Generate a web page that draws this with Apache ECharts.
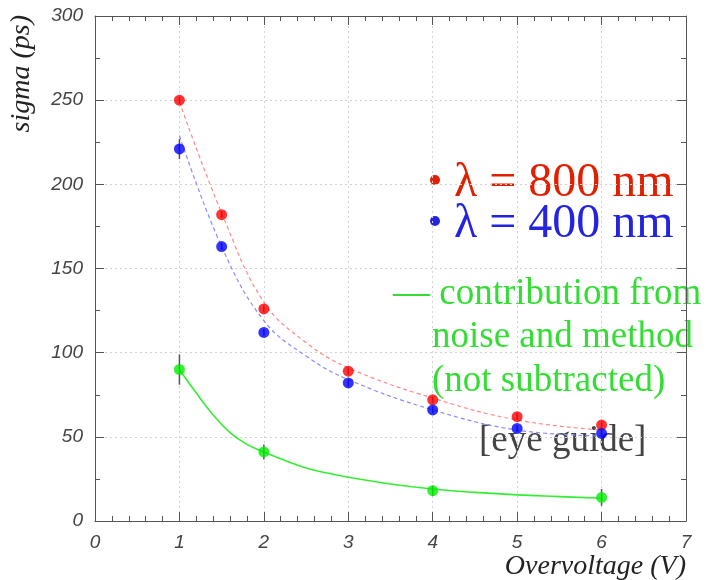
<!DOCTYPE html>
<html>
<head>
<meta charset="utf-8">
<script src="https://cdn.jsdelivr.net/npm/echarts@6/dist/echarts.min.js"></script>
<style>
  html, body { margin: 0; padding: 0; background: #fff; }
  #chart { width: 719px; height: 580px; }
</style>
</head>
<body>
<div id="chart"></div>
<script>
// Measured time resolution versus overvoltage
const voltage = [1, 1.5, 2, 3, 4, 5, 6];
const sigma800 = [250, 182, 126, 89, 72, 62, 57];
const err800 = [2, 2, 2, 2, 2, 2, 2];
const sigma400 = [221, 163, 112, 82, 66, 55, 52];
const err400 = [6, 2, 2, 2, 2, 2, 2];

// Noise and method contribution
const noiseVoltage = [1, 2, 4, 6];
const noiseSigma = [90, 41, 18, 14];
const noiseErr = [9, 4.5, 3, 5];

// Eye-guide curves
const guideX = [1, 1.5, 2, 2.5, 3, 4, 5, 6];
const guide800 = [249, 183, 130, 106, 91, 73, 60, 54];
const guide400 = [229, 163, 119, 98, 84, 66, 54, 50.5];
const noiseGuideX = [1, 1.2, 1.4, 1.6, 1.8, 2, 2.25, 2.5, 2.75, 3, 3.5, 4, 4.5, 5, 5.5, 6];
const noiseGuide = [90, 76, 63, 52.5, 45.5, 41, 36, 31.5, 28.5, 26, 22, 19, 17, 15.5, 14.5, 13.5];

// Axis ticks
const xTicks = [0, 1, 2, 3, 4, 5, 6, 7];
const yTicks = [0, 50, 100, 150, 200, 250, 300];

const zip = (xs, ys) => xs.map((x, i) => [x, ys[i]]);
const withErr = (xs, ys, es) => xs.map((x, i) => [x, ys[i] - es[i], ys[i] + es[i]]);

const chart = echarts.init(document.getElementById('chart'), null, { renderer: 'canvas' });

const tickFont = { fontFamily: 'Liberation Sans', fontStyle: 'italic', fontSize: 19, color: '#444' };
const frameLine = { show: true, onZero: false, lineStyle: { color: '#555', width: 1 } };
const grid = { show: true, type: [2, 3], color: '#d2d2d2', width: 1 };

function xAxisDef(pos, labels) {
  return {
    type: 'value', position: pos, min: xTicks[0], max: xTicks[xTicks.length - 1], interval: 1,
    axisLine: frameLine,
    axisTick: { show: true, inside: true, length: 9, lineStyle: { color: '#555' } },
    minorTick: { show: true, splitNumber: 5, length: 5, lineStyle: { color: '#555' } },
    axisLabel: labels ? Object.assign({ margin: 12 }, tickFont) : { show: false },
    splitLine: labels ? { show: true, lineStyle: grid } : { show: false },
    minorSplitLine: { show: false }
  };
}
function yAxisDef(pos, labels) {
  return {
    type: 'value', position: pos, min: yTicks[0], max: yTicks[yTicks.length - 1], interval: 50,
    axisLine: frameLine,
    axisTick: { show: true, inside: true, length: 9, lineStyle: { color: '#555' } },
    minorTick: { show: true, splitNumber: 2, length: 5, lineStyle: { color: '#555' } },
    axisLabel: labels ? Object.assign({ margin: 12 }, tickFont) : { show: false },
    splitLine: labels ? { show: true, lineStyle: grid } : { show: false },
    minorSplitLine: { show: false }
  };
}

function errorBars(data, color) {
  return {
    type: 'custom', xAxisIndex: 0, yAxisIndex: 0, z: 3,
    data: data,
    encode: { x: 0, y: [1, 2] },
    renderItem: function (params, api) {
      const lo = api.coord([api.value(0), api.value(1)]);
      const hi = api.coord([api.value(0), api.value(2)]);
      return {
        type: 'line',
        shape: { x1: lo[0], y1: lo[1], x2: hi[0], y2: hi[1] },
        style: { stroke: color, lineWidth: 1.5 }
      };
    }
  };
}

function points(xs, ys, color) {
  return {
    type: 'scatter', data: zip(xs, ys), symbol: 'circle', symbolSize: 11, z: 5,
    itemStyle: { color: color }
  };
}

function guide(xs, ys, color, dashed, width) {
  return {
    type: 'line', data: zip(xs, ys), smooth: 0.4, showSymbol: false, z: 2,
    lineStyle: { color: color, width: width, type: dashed ? [4, 3] : 'solid' }
  };
}

chart.setOption({
  animation: false,
  backgroundColor: '#fff',
  grid: { left: 95, top: 16, width: 591, height: 505, show: false },
  xAxis: [xAxisDef('bottom', true), xAxisDef('top', false)],
  yAxis: [yAxisDef('left', true), yAxisDef('right', false)],
  series: [
    guide(guideX, guide800, '#ff8a8a', true, 1.2),
    guide(guideX, guide400, '#8a8aff', true, 1.2),
    guide(noiseGuideX, noiseGuide, '#33ee33', false, 1.6),
    errorBars(withErr(voltage, sigma800, err800), '#555'),
    errorBars(withErr(voltage, sigma400, err400), '#555'),
    errorBars(withErr(noiseVoltage, noiseSigma, noiseErr), '#555'),
    points(voltage, sigma800, '#ff0000'),
    points(voltage, sigma400, '#0000ff'),
    points(noiseVoltage, noiseSigma, '#00ee00')
  ],
  graphic: [
    { type: 'text', rotation: Math.PI / 2, x: 22, y: 15,
      style: { text: 'sigma (ps)', font: 'italic 28px "Liberation Serif"', fill: '#222', textAlign: 'right', textVerticalAlign: 'middle' } },
    { type: 'text', x: 686, y: 567,
      style: { text: 'Overvoltage (V)', font: 'italic 28px "Liberation Serif"', fill: '#222', textAlign: 'right', textVerticalAlign: 'middle' } },
    { type: 'circle', shape: { cx: 435, cy: 180, r: 5 }, style: { fill: '#e02000' } },
    { type: 'text', x: 454, y: 183,
      style: { text: 'λ = 800 nm', font: '48px "Liberation Serif"', fill: '#e02000', textAlign: 'left', textVerticalAlign: 'middle' } },
    { type: 'circle', shape: { cx: 435, cy: 221, r: 5 }, style: { fill: '#2424e0' } },
    { type: 'text', x: 454, y: 224,
      style: { text: 'λ = 400 nm', font: '48px "Liberation Serif"', fill: '#2424e0', textAlign: 'left', textVerticalAlign: 'middle' } },
    { type: 'text', x: 393, y: 294,
      style: { text: '— contribution from', font: '37px "Liberation Serif"', fill: '#33dd33', textAlign: 'left', textVerticalAlign: 'middle' } },
    { type: 'text', x: 432, y: 337,
      style: { text: 'noise and method', font: '37px "Liberation Serif"', fill: '#33dd33', textAlign: 'left', textVerticalAlign: 'middle' } },
    { type: 'text', x: 432, y: 381,
      style: { text: '(not subtracted)', font: '37px "Liberation Serif"', fill: '#33dd33', textAlign: 'left', textVerticalAlign: 'middle' } },
    { type: 'text', x: 479, y: 441,
      style: { text: '[eye guide]', font: '37px "Liberation Serif"', fill: '#444', textAlign: 'left', textVerticalAlign: 'middle' } }
  ]
});
</script>
</body>
</html>
